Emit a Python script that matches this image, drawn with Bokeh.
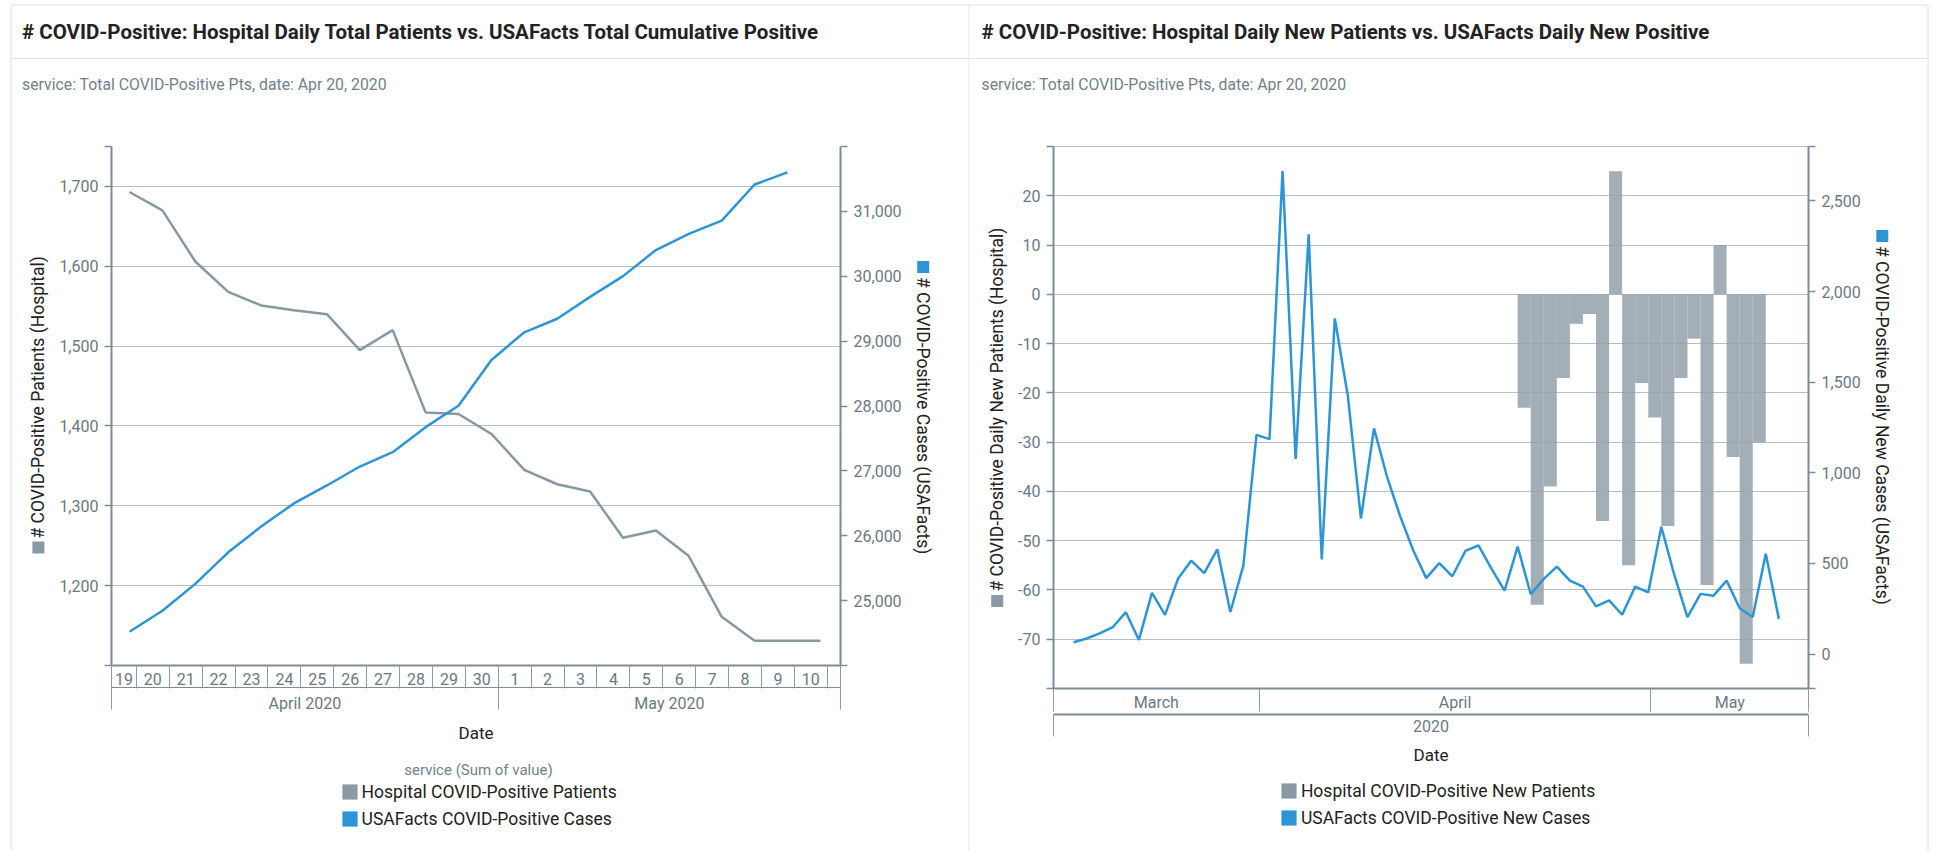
import math
import pandas as pd
from bokeh.plotting import figure
from bokeh.models import (Range1d, LinearAxis, FixedTicker, NumeralTickFormatter, Grid,
                          Label, Legend, LegendItem, GridBox)
from bokeh.embed import file_html
from bokeh.resources import INLINE

# ------------------------------------------------------------------ data
# left chart: daily totals
total_dates = pd.date_range("2020-04-20", "2020-05-11", freq="D")
hospital_total = [1693, 1670, 1606, 1568, 1551, 1545, 1540, 1495, 1520, 1417, 1415,
                  1390, 1345, 1327, 1318, 1260, 1269, 1237, 1161, 1131, 1131, 1131]
cumulative_dates = pd.date_range("2020-04-20", "2020-05-10", freq="D")
usafacts_cumulative = [24520, 24844, 25258, 25744, 26141, 26499, 26775, 27067, 27288,
                       27674, 28005, 28710, 29136, 29345, 29682, 30002, 30404, 30653,
                       30857, 31414, 31601]

# right chart: daily new values
new_case_dates = pd.date_range("2020-03-18", "2020-05-11", freq="D")
usafacts_new = [65, 86, 114, 148, 231, 78, 338, 216, 417, 515,
                446, 578, 232, 489, 1209, 1186, 2664, 1077, 2316, 522,
                1852, 1423, 747, 1245, 978, 761, 573, 419, 502, 429,
                569, 599, 470, 350, 593, 330, 415, 482, 405, 372,
                263, 296, 217, 372, 340, 702, 435, 204, 332, 322,
                405, 253, 204, 553, 194]
new_patient_dates = pd.date_range("2020-04-21", "2020-05-09", freq="D")
hospital_new = [-23, -63, -39, -17, -6, -4, -46, 25, -55, -18,
                -25, -47, -17, -9, -59, 10, -33, -75, -30]

left_hosp_ticks = [1200, 1300, 1400, 1500, 1600, 1700]
left_usa_ticks = [25000, 26000, 27000, 28000, 29000, 30000, 31000]
right_hosp_ticks = [-70, -60, -50, -40, -30, -20, -10, 0, 10, 20]
right_usa_ticks = [0, 500, 1000, 1500, 2000, 2500]

# ------------------------------------------------------------------ style
FONT = "Roboto"
AXIS_C = "#7f8c97"
SEP_C = "#8e9aa4"
GRID_C = "#b4bec5"
TICK_C = "#6a7884"
BLUE = "#2d95d5"
GREY = "#8798a3"
BAR_C = "#93a0aa"
CARD_C = "#d9e0e6"
TITLE_C = "#222222"
SUB_C = "#727f8a"
MARK_GREY = "#8a99a4"
TICK_FS = "16px"
DAY = 86400000.0
SHIFT = pd.Timedelta(hours=5)     # display time zone offset
H = 850


def ms(t):
    return (pd.Timestamp(t) - pd.Timestamp("1970-01-01")) / pd.Timedelta(milliseconds=1)


def ms_list(idx):
    return [ms(t) for t in idx]


def ts(v):
    return pd.Timestamp("1970-01-01") + pd.Timedelta(milliseconds=v)


def no_align(f):
    try:
        f.frame_align = False
    except Exception:
        pass


def y_axis(p, side, ticks, rng, range_name=None):
    ax = LinearAxis(ticker=FixedTicker(ticks=ticks, minor_ticks=[rng[0], rng[1]]),
                    formatter=NumeralTickFormatter(format="0,0"))
    if range_name:
        ax.y_range_name = range_name
    ax.axis_line_color = AXIS_C
    ax.axis_line_width = 2
    ax.major_tick_out = 7
    ax.major_tick_in = 0
    ax.major_tick_line_color = AXIS_C
    ax.major_tick_line_width = 1.5
    ax.minor_tick_out = 7
    ax.minor_tick_in = 0
    ax.minor_tick_line_color = AXIS_C
    ax.minor_tick_line_width = 1.5
    ax.major_label_standoff = 6
    ax.major_label_text_font = FONT
    ax.major_label_text_font_size = TICK_FS
    ax.major_label_text_color = TICK_C
    p.add_layout(ax, side)


def x_row(p, centers, labels, seps, sep_len, line_width, label_top,
          axis_label=None, al_standoff=0):
    ax = LinearAxis(ticker=FixedTicker(ticks=centers, minor_ticks=seps))
    ax.major_label_overrides = {c: l for c, l in zip(centers, labels)}
    ax.major_tick_out = 0
    ax.major_tick_in = 0
    ax.major_tick_line_color = None
    ax.minor_tick_out = sep_len
    ax.minor_tick_in = 0
    ax.minor_tick_line_color = SEP_C
    ax.minor_tick_line_width = 1
    ax.axis_line_color = AXIS_C
    ax.axis_line_width = line_width
    ax.major_label_standoff = label_top - sep_len
    ax.major_label_text_font = FONT
    ax.major_label_text_font_size = TICK_FS
    ax.major_label_text_color = TICK_C
    if axis_label:
        ax.axis_label = axis_label
        ax.axis_label_text_font = FONT
        ax.axis_label_text_font_size = "17px"
        ax.axis_label_text_font_style = "normal"
        ax.axis_label_text_color = TITLE_C
        ax.axis_label_standoff = al_standoff
    p.add_layout(ax, "below")


def day_cells(start, end):
    centers, labels, seps = [], [], [start]
    for d in pd.date_range(ts(start).floor("D"), ts(end).floor("D"), freq="D"):
        a, b = max(ms(d), start), min(ms(d) + DAY, end)
        if b - a >= 0.5 * DAY:
            centers.append((a + b) / 2)
            labels.append(str(d.day))
        if start < ms(d) < end:
            seps.append(ms(d))
    seps.append(end)
    return centers, labels, seps


def month_cells(start, end, fmt):
    centers, labels, seps = [], [], [start]
    m = ts(start).to_period("M").to_timestamp()
    while ms(m) < end:
        nxt = m + pd.offsets.MonthBegin(1)
        a, b = max(ms(m), start), min(ms(nxt), end)
        centers.append((a + b) / 2)
        labels.append(m.strftime(fmt))
        if start < ms(nxt) < end:
            seps.append(ms(nxt))
        m = nxt
    seps.append(end)
    return centers, labels, seps


def base_fig(width, mb_left, mb_right, mb_bottom, xr, yr):
    p = figure(width=width, height=H, output_backend="svg", toolbar_location=None,
               x_range=Range1d(*xr), y_range=Range1d(*yr), title=None,
               x_axis_type=None, y_axis_type=None,
               min_border_left=mb_left, min_border_right=mb_right,
               min_border_top=146, min_border_bottom=mb_bottom)
    p.background_fill_color = "white"
    p.border_fill_color = "white"
    p.outline_line_color = None
    no_align(p)
    return p


# ---------------- overlay (card frame, titles, axis titles, legend) in canvas pixels
def overlay(width):
    o = figure(width=width, height=H, output_backend="svg", toolbar_location=None,
               x_range=Range1d(0, width), y_range=Range1d(H, 0), title=None,
               x_axis_type=None, y_axis_type=None, min_border=0,
               min_border_left=0, min_border_right=0, min_border_top=0, min_border_bottom=0)
    o.outline_line_color = None
    o.background_fill_alpha = 0
    o.border_fill_alpha = 0
    no_align(o)
    return o


def rect(o, x0, x1, y0, y1, fill=None, line=None):
    return o.quad(left=[x0], right=[x1], top=[y0], bottom=[y1],
                  fill_color=fill if fill else "white", fill_alpha=1 if fill else 0,
                  line_color=line, line_width=1)


def text(o, x, y, t, size, color, bold=False, align="left", angle=0.0):
    o.add_layout(Label(x=x, y=y, text=t, angle=angle, text_font=FONT,
                       text_font_size=size, text_color=color,
                       text_font_style="bold" if bold else "normal",
                       text_align=align, text_baseline="middle"))


def header(o, x0, x1, tx, title, subtitle):
    rect(o, x0, x1, 4.5, 900, line=CARD_C)
    rect(o, x0 - 0.5, x1 + 0.5, 57.5, 58.5, fill=CARD_C)
    text(o, tx, 31.7, title, "20.5px", TITLE_C, bold=True)
    text(o, tx, 83.5, subtitle, "15.8px", SUB_C)


def axis_title(o, cx, y_start, t, marker_top, color, up):
    rect(o, cx - 6, cx + 6, marker_top, marker_top + 12, fill=color)
    text(o, cx, y_start, t, "17.5px", TITLE_C, angle=(math.pi / 2 if up else -math.pi / 2))


def legend(o, x, y_bottom, entries):
    items = []
    for t, color in entries:
        # swatch renderer kept off-canvas: only its legend icon is seen
        r = rect(o, -60, -50, -60, -50, fill=color)
        items.append(LegendItem(label=t, renderers=[r]))
    lg = Legend(items=items, location=(x, H - y_bottom), padding=0, margin=0, spacing=7,
                glyph_width=19, glyph_height=19, label_height=19, label_standoff=3,
                label_text_font=FONT, label_text_font_size="17.5px",
                label_text_color=TITLE_C, border_line_color=None,
                background_fill_alpha=0)
    o.add_layout(lg)


SUBTITLE = "service: Total COVID-Positive Pts, date: Apr 20, 2020"

# ------------------------------------------------------------------ left chart
lx_h = ms_list(total_dates - SHIFT)
lx_c = ms_list(cumulative_dates - SHIFT)
l_start = lx_h[0] - 0.547 * DAY
l_end = lx_h[-1] + 0.611 * DAY

W1 = 969
p1 = base_fig(W1, 111, W1 - 840, H - 665, (l_start, l_end), (1100, 1750))
p1.extra_y_ranges = {"usa": Range1d(24000, 32000)}
p1.add_layout(Grid(dimension=1, ticker=FixedTicker(ticks=left_hosp_ticks),
                   grid_line_color=GRID_C, grid_line_width=1))
y_axis(p1, "left", left_hosp_ticks, (1100, 1750))
y_axis(p1, "right", left_usa_ticks, (24000, 32000), "usa")
c, l, s = day_cells(l_start, l_end)
x_row(p1, c, l, s, 23, 2, 7)
c, l, s = month_cells(l_start, l_end, "%B %Y")
x_row(p1, c, l, s, 22, 1, 6, axis_label="Date", al_standoff=7)

p1.line(x=lx_h, y=hospital_total, line_color=GREY, line_width=2.5)
p1.line(x=lx_c, y=usafacts_cumulative, line_color=BLUE, line_width=2.5, y_range_name="usa")

o1 = overlay(W1)
header(o1, 10.5, 968.5, 21.5,
       "# COVID-Positive: Hospital Daily Total Patients vs. USAFacts Total Cumulative Positive",
       SUBTITLE)
axis_title(o1, 37.9, 538, "# COVID-Positive Patients (Hospital)", 541, MARK_GREY, True)
axis_title(o1, 922.7, 276.5, "# COVID-Positive Cases (USAFacts)", 260.5, BLUE, False)
text(o1, 478, 769, "service (Sum of value)", "15px", SUB_C, align="center")
legend(o1, 339.6, 828.5, [("Hospital COVID-Positive Patients", MARK_GREY),
                          ("USAFacts COVID-Positive Cases", BLUE)])

# ------------------------------------------------------------------ right chart
X2 = 969          # page x of the right card canvas
W2 = 965
rx = ms_list(new_case_dates - SHIFT)
bx = ms_list(new_patient_dates - SHIFT)
r_start = rx[0] - 1.54 * DAY
r_end = rx[-1] + 2.27 * DAY

p2 = base_fig(W2, 1053 - X2, X2 + W2 - 1808, H - 688, (r_start, r_end), (-80, 30))
p2.outline_line_color = GRID_C
p2.extra_y_ranges = {"usa": Range1d(-190, 2800)}
p2.add_layout(Grid(dimension=1, ticker=FixedTicker(ticks=right_hosp_ticks),
                   grid_line_color=GRID_C, grid_line_width=1))
y_axis(p2, "left", right_hosp_ticks, (-80, 30))
y_axis(p2, "right", right_usa_ticks, (-190, 2800), "usa")
c, l, s = month_cells(r_start, r_end, "%B")
x_row(p2, c, l, s, 23, 2, 4)
x_row(p2, [(r_start + r_end) / 2], ["2020"], [r_start, r_end], 22, 2, 5,
      axis_label="Date", al_standoff=10)

p2.quad(left=bx, right=[b + DAY for b in bx], bottom=0, top=hospital_new,
        fill_color=BAR_C, fill_alpha=0.85, line_color=None)
p2.line(x=rx, y=usafacts_new, line_color=BLUE, line_width=2.5, y_range_name="usa")

o2 = overlay(W2)
header(o2, -0.5, 1927.5 - X2, 981 - X2,
       "# COVID-Positive: Hospital Daily New Patients vs. USAFacts Daily New Positive",
       SUBTITLE)
axis_title(o2, 996.7 - X2, 591, "# COVID-Positive Daily New Patients (Hospital)", 594.5,
           MARK_GREY, True)
axis_title(o2, 1881.8 - X2, 245.5, "# COVID-Positive Daily New Cases (USAFacts)", 229.5,
           BLUE, False)
legend(o2, 1278.9 - X2, 827.5, [("Hospital COVID-Positive New Patients", MARK_GREY),
                                ("USAFacts COVID-Positive New Cases", BLUE)])

layout = GridBox(children=[(p1, 0, 0), (o1, 0, 0), (p2, 0, 1), (o2, 0, 1)])
open("out.html", "w").write(file_html(layout, INLINE))
